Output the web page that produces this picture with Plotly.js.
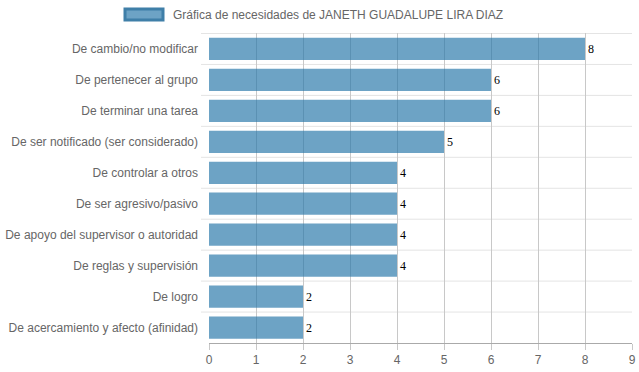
<!DOCTYPE html>
<html>
<head>
<meta charset="utf-8">
<script src="https://cdn.plot.ly/plotly-3.0.1.min.js"></script>
<style>html,body{margin:0;padding:0;background:#fff;}#chart{width:639px;height:372px;}</style>
</head>
<body>
<div id="chart"></div>
<script>
const categories = [
  "De cambio/no modificar",
  "De pertenecer al grupo",
  "De terminar una tarea",
  "De ser notificado (ser considerado)",
  "De controlar a otros",
  "De ser agresivo/pasivo",
  "De apoyo del supervisor o autoridad",
  "De reglas y supervisión",
  "De logro",
  "De acercamiento y afecto (afinidad)"
];
const values = [8, 6, 6, 5, 4, 4, 4, 4, 2, 2];
const seriesName = "Gráfica de necesidades de JANETH GUADALUPE LIRA DIAZ";
const xTicks = [0, 1, 2, 3, 4, 5, 6, 7, 8, 9];

const n = categories.length;
const boundaries = [];
for (let i = 0; i < n; i++) boundaries.push(i - 0.5);

const trace = {
  type: "bar",
  orientation: "h",
  y: categories,
  x: values,
  name: seriesName,
  width: 0.72,
  marker: {color: "rgba(40,120,170,0.68)", line: {width: 0}},
  text: values.map(String),
  textposition: "outside",
  cliponaxis: false,
  textfont: {family: "Liberation Serif, Times New Roman, serif", size: 12, color: "#000"},
  hoverinfo: "none"
};

const gridShapes = boundaries.map(b => ({
  type: "line", xref: "paper", yref: "y",
  x0: -8 / 423, x1: 1, y0: b, y1: b,
  line: {color: "#e4e4e4", width: 1}, layer: "below"
}));

const legendShape = {
  type: "rect", xref: "paper", yref: "paper",
  x0: (125 - 209) / 423, x1: (163 - 209) / 423,
  y0: (343 - 20) / 310, y1: (343 - 9) / 310,
  fillcolor: "rgba(40,120,170,0.68)",
  line: {color: "#3f7fa8", width: 3}
};

const layout = {
  width: 639, height: 372,
  margin: {l: 209, r: 7, t: 33, b: 29, pad: 0},
  paper_bgcolor: "#fff", plot_bgcolor: "rgba(0,0,0,0)",
  showlegend: false,
  font: {family: "Arial, Liberation Sans, sans-serif", size: 12, color: "#666"},
  xaxis: {
    range: [0, 9], tickvals: xTicks, ticktext: xTicks.map(String),
    showgrid: true, gridcolor: "#c8c8c8", gridwidth: 1,
    zeroline: false, showline: true, linecolor: "#aaa",
    ticks: "outside", ticklen: 6, tickcolor: "#c8c8c8",
    tickfont: {size: 12, color: "#666"}, fixedrange: true
  },
  yaxis: {
    type: "category", autorange: "reversed",
    showgrid: false, ticks: "", ticklabelstandoff: 10,
    showline: false, zeroline: false,
    tickfont: {size: 12, color: "#666"}, fixedrange: true
  },
  shapes: gridShapes.concat([legendShape]),
  annotations: [{
    xref: "paper", yref: "paper",
    x: (171 - 209) / 423, y: (343 - 14.5) / 310,
    xanchor: "left", yanchor: "middle", showarrow: false,
    text: seriesName,
    font: {size: 12, color: "#666", family: "Arial, Liberation Sans, sans-serif"}
  }]
};

Plotly.newPlot("chart", [trace], layout, {displayModeBar: false, staticPlot: true});
</script>
</body>
</html>
